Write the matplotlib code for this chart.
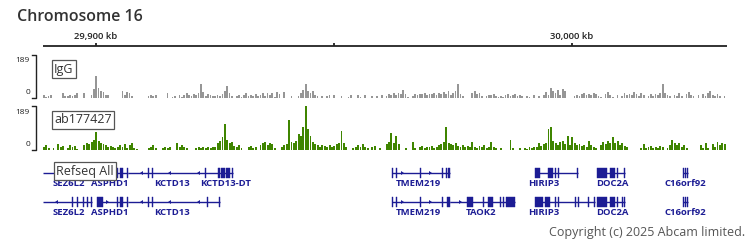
import numpy as np
import matplotlib
matplotlib.use('Agg')
import matplotlib.pyplot as plt
from matplotlib.patches import Rectangle

plt.rcParams['font.family'] = ['Open Sans', 'DejaVu Sans']

# ---------------- data ----------------
view_kb = [29888.87, 30032.56]
ruler_ticks_kb = [29900, 29950, 30000]
ruler_labels = ['29,900 kb', '', '30,000 kb']
track_max = 189
bin_start_kb = 29888.87
bin_kb = 0.5

igg_values = [
    15, 6, 8, 12, 0, 0, 0, 0, 20, 8, 10, 12, 8, 14, 22, 0, 0, 22, 0, 0, 15, 40, 95, 45,
    30, 25, 12, 14, 0, 0, 0, 0, 0, 28, 12, 24, 20, 8, 0, 0, 0, 0, 0, 0, 10, 14, 8, 12,
    0, 0, 0, 0, 22, 0, 6, 10, 0, 14, 6, 12, 22, 14, 8, 18, 12, 20, 60, 25, 10, 18, 12, 8,
    10, 14, 8, 18, 30, 50, 20, 8, 0, 10, 12, 6, 14, 20, 8, 14, 10, 18, 8, 14, 20, 10, 22, 12,
    20, 6, 24, 18, 0, 24, 0, 0, 8, 0, 0, 10, 22, 35, 62, 30, 20, 28, 12, 10, 0, 8, 0, 10,
    12, 0, 14, 0, 0, 10, 0, 0, 6, 12, 0, 0, 14, 6, 0, 12, 0, 0, 10, 0, 8, 0, 12, 0,
    8, 18, 12, 20, 14, 22, 18, 35, 16, 6, 0, 10, 16, 12, 18, 16, 20, 14, 18, 16, 20, 14, 22, 18,
    24, 18, 28, 14, 20, 30, 60, 18, 8, 0, 0, 0, 20, 30, 16, 22, 10, 0, 10, 14, 12, 16, 8, 6,
    10, 6, 14, 18, 8, 12, 16, 10, 14, 8, 0, 10, 6, 0, 12, 0, 8, 0, 12, 25, 14, 45, 30, 20,
    35, 12, 40, 30, 0, 0, 0, 8, 14, 10, 16, 20, 14, 18, 12, 22, 16, 10, 6, 0, 18, 25, 12, 6,
    0, 12, 0, 10, 22, 14, 18, 12, 24, 16, 8, 20, 14, 0, 10, 16, 8, 18, 12, 20, 60, 22, 14, 10,
    0, 14, 8, 20, 10, 0, 16, 24, 12, 8, 0, 12, 0, 18, 10, 20, 30, 14, 8, 16, 10, 0, 8, 0,
]

ab177427_values = [
    15, 20, 10, 0, 10, 0, 25, 15, 18, 0, 10, 20, 12, 16, 6, 0, 0, 22, 30, 25, 35, 45, 78, 40,
    30, 25, 20, 15, 18, 12, 10, 14, 22, 12, 25, 10, 20, 28, 10, 6, 0, 0, 0, 0, 8, 14, 20, 10,
    0, 0, 10, 14, 8, 12, 0, 0, 30, 14, 20, 12, 8, 0, 0, 0, 8, 12, 10, 14, 8, 12, 10, 14,
    12, 30, 40, 55, 110, 45, 30, 35, 18, 12, 20, 10, 0, 0, 12, 16, 10, 14, 0, 20, 28, 35, 22, 30,
    25, 10, 0, 0, 15, 20, 25, 130, 35, 30, 40, 70, 60, 100, 189, 90, 60, 35, 25, 20, 15, 22, 18, 12,
    20, 12, 18, 25, 30, 80, 30, 15, 0, 0, 10, 14, 20, 12, 25, 15, 10, 0, 12, 18, 0, 10, 0, 0,
    25, 35, 73, 30, 60, 25, 0, 0, 8, 0, 0, 35, 8, 0, 12, 18, 10, 15, 12, 18, 10, 14, 20, 25,
    35, 100, 30, 25, 20, 28, 18, 15, 20, 12, 18, 14, 35, 15, 10, 18, 12, 20, 10, 14, 35, 15, 10, 0,
    10, 0, 0, 0, 45, 10, 0, 0, 8, 0, 10, 6, 12, 8, 14, 12, 30, 18, 25, 30, 90, 100, 40, 30,
    20, 35, 40, 25, 60, 20, 55, 30, 20, 25, 18, 22, 15, 40, 20, 12, 10, 0, 20, 35, 25, 40, 30, 55,
    30, 40, 22, 30, 18, 12, 0, 0, 0, 0, 0, 10, 25, 8, 12, 18, 10, 14, 8, 16, 12, 0, 10, 20,
    45, 30, 20, 28, 15, 22, 10, 0, 0, 0, 0, 0, 20, 8, 30, 10, 0, 25, 12, 35, 20, 30, 25, 0,
]

gene_names = ['SEZ6L2', 'ASPHD1', 'KCTD13', 'KCTD13-DT', 'TMEM219', 'HIRIP3', 'DOC2A', 'C16orf92',
              'SEZ6L2', 'ASPHD1', 'KCTD13', 'TMEM219', 'TAOK2', 'HIRIP3', 'DOC2A', 'C16orf92']
gene_rows = [1, 1, 1, 1, 1, 1, 1, 1, 2, 2, 2, 2, 2, 2, 2, 2]
gene_starts = [29888.87, 29900.21, 29906.72, 29925.84, 29962.18, 29992.23, 30005.25, 30023.32,
               29888.87, 29900.21, 29906.72, 29962.18, 29974.37, 29992.23, 30005.25, 30023.32]
gene_ends = [29899.16, 29906.72, 29925.84, 29928.78, 29974.37, 30001.26, 30011.13, 30024.37,
             29899.16, 29906.72, 29926.05, 29974.37, 29988.03, 30004.83, 30011.13, 30024.37]
gene_strands = ['-', '+', '-', '+', '+', '-', '-', '+',
                '-', '+', '-', '+', '+', '-', '-', '+']
gene_exons = [
    [(29894.96, 29895.12), (29896.01, 29896.17), (29897.27, 29897.43), (29898.11, 29898.27), (29898.95, 29899.16)],
    [(29900.21, 29901.47), (29904.41, 29904.57), (29905.04, 29905.67), (29906.56, 29906.72)],
    [(29910.92, 29911.08), (29911.76, 29911.92), (29922.90, 29923.06), (29925.68, 29925.84)],
    [(29925.84, 29926.00), (29926.26, 29927.10), (29927.31, 29928.15), (29928.62, 29928.78)],
    [(29962.18, 29962.34), (29963.03, 29963.19), (29968.07, 29968.23), (29972.69, 29972.85), (29973.53, 29973.69), (29974.00, 29974.37)],
    [(29992.23, 29993.28), (29994.96, 29996.01), (29996.43, 29996.59), (29997.06, 29997.22), (30001.10, 30001.26)],
    [(30005.25, 30007.35), (30007.98, 30009.03), (30009.45, 30009.61), (30010.97, 30011.13)],
    [(30023.32, 30023.46), (30023.78, 30023.92), (30024.23, 30024.37)],
    [(29894.96, 29895.12), (29896.01, 29896.17), (29897.27, 29897.43), (29898.11, 29898.27), (29898.95, 29899.16)],
    [(29900.21, 29901.47), (29904.41, 29904.57), (29905.04, 29905.67), (29906.56, 29906.72)],
    [(29910.92, 29911.08), (29911.76, 29911.92), (29923.32, 29923.48), (29925.89, 29926.05)],
    [(29962.18, 29962.34), (29963.03, 29963.19), (29968.07, 29968.23), (29972.69, 29972.85), (29973.74, 29974.37)],
    [(29977.94, 29979.20), (29981.30, 29981.46), (29982.35, 29983.40), (29984.87, 29985.03), (29985.50, 29985.66), (29986.13, 29988.03)],
    [(29992.23, 29993.91), (29994.33, 29995.38), (29996.43, 29996.59), (29997.06, 29997.22), (30000.63, 30000.79), (30001.26, 30001.42), (30003.36, 30003.52), (30004.67, 30004.83)],
    [(30005.25, 30007.35), (30007.98, 30009.03), (30009.45, 30009.61), (30010.50, 30010.66), (30010.97, 30011.13)],
    [(30023.32, 30023.46), (30023.78, 30023.92), (30024.23, 30024.37)],
]
gene_label_kb = [29894.33, 29902.94, 29915.97, 29927.31, 29967.65, 29994.12, 30008.40, 30023.74,
                 29894.33, 29902.94, 29915.97, 29967.65, 29980.88, 29994.12, 30008.40, 30023.74]

track_names = ['IgG', 'ab177427', 'Refseq All']
copyright_text = 'Copyright (c) 2025 Abcam limited.'

# ---------------- styles ----------------
W, H = 750, 250
GENE_COLOR = '#1c1c94'
IGG_COLOR = '#969696'
AB_COLOR = '#3f8500'
TEXT_DARK = '#333333'

fig = plt.figure(figsize=(W / 100, H / 100), dpi=100)


def px_axes(x0, y0, x1, y1, **kw):
    return fig.add_axes([x0 / W, 1 - y1 / H, (x1 - x0) / W, (y1 - y0) / H], **kw)


# ruler
ax_r = px_axes(43, 28, 727, 48)
ax_r.set_xlim(view_kb)
ax_r.set_ylim(48, 28)
ax_r.axis('off')
ax_r.hlines(46, view_kb[0], view_kb[1], color='#222222', lw=1.3)
ax_r.vlines(ruler_ticks_kb, 42.5, 46, color='#222222', lw=1.3)
for t, lab in zip(ruler_ticks_kb, ruler_labels):
    ax_r.text(t, 36.5, lab, ha='center', va='center', fontsize=6.8,
              fontweight='semibold', color='#222222')

# signal tracks
bin_x = bin_start_kb + bin_kb * np.arange(len(igg_values))
ax_i = px_axes(43, 54, 727, 98)
ax_i.bar(bin_x, igg_values, width=bin_kb * 0.72, align='edge', color=IGG_COLOR, lw=0)
ax_i.set_xlim(view_kb)
ax_i.set_ylim(0, track_max)
ax_i.axis('off')

ax_a = px_axes(43, 106, 727, 150)
ax_a.bar(bin_x, ab177427_values, width=bin_kb * 0.8, align='edge', color=AB_COLOR, lw=0)
ax_a.set_xlim(view_kb)
ax_a.set_ylim(0, track_max)
ax_a.axis('off')

# genes
ax_g = px_axes(43, 160, 727, 222)
ax_g.set_xlim(view_kb)
ax_g.set_ylim(222, 160)
ax_g.axis('off')
row_y = {1: 172.5, 2: 201.5}
for name, row, s, e, strand, exons, lx in zip(gene_names, gene_rows, gene_starts, gene_ends,
                                               gene_strands, gene_exons, gene_label_kb):
    y = row_y[row]
    ax_g.hlines(y, s, e, color=GENE_COLOR, lw=1.0)
    for (es, ee) in exons:
        ax_g.add_patch(Rectangle((es, y - 5), ee - es, 10, facecolor=GENE_COLOR,
                                 edgecolor=GENE_COLOR, lw=0.3))
    marker = 5 if strand == '+' else 4
    pos = np.arange(s + 2.5, e - 1.0, 6.0)
    keep = [p for p in pos if all(not (es - 0.8 <= p <= ee + 0.8) for es, ee in exons)]
    if keep:
        ax_g.plot(keep, [y] * len(keep), ls='none', marker=marker, ms=3.2,
                  color=GENE_COLOR, mew=0)
    ax_g.text(lx, y + 11, name, ha='center', va='center', fontsize=6.8,
              fontweight='bold', color=GENE_COLOR)

# overlay in pixel coordinates
ov = fig.add_axes([0, 0, 1, 1], zorder=10)
ov.set_xlim(0, W)
ov.set_ylim(H, 0)
ov.axis('off')
ov.patch.set_alpha(0)

ov.text(17, 21, 'Chromosome 16', fontsize=11.5, fontweight='semibold',
        color=TEXT_DARK, va='baseline', ha='left')

for top, bottom in [(55, 98), (106, 150)]:
    ov.plot([32, 36, 36, 32], [top, top, bottom, bottom], color='#222222', lw=1.0)
    ov.text(30, top + 6, str(track_max), ha='right', va='center', fontsize=6, color='#222222')
    ov.text(30, bottom - 5, '0', ha='right', va='center', fontsize=6, color='#222222')

box = dict(boxstyle='square,pad=0.2', fc='white', ec='#555555', lw=0.9)
for (lx, ly), lab in zip([(54, 69), (54, 119.5), (56, 171)], track_names):
    ov.text(lx, ly, lab, ha='left', va='center', fontsize=9, color=TEXT_DARK, bbox=box)

ov.text(745, 236, copyright_text, ha='right', va='baseline', fontsize=9, color='#555555')

fig.savefig('out.png', dpi=100)
